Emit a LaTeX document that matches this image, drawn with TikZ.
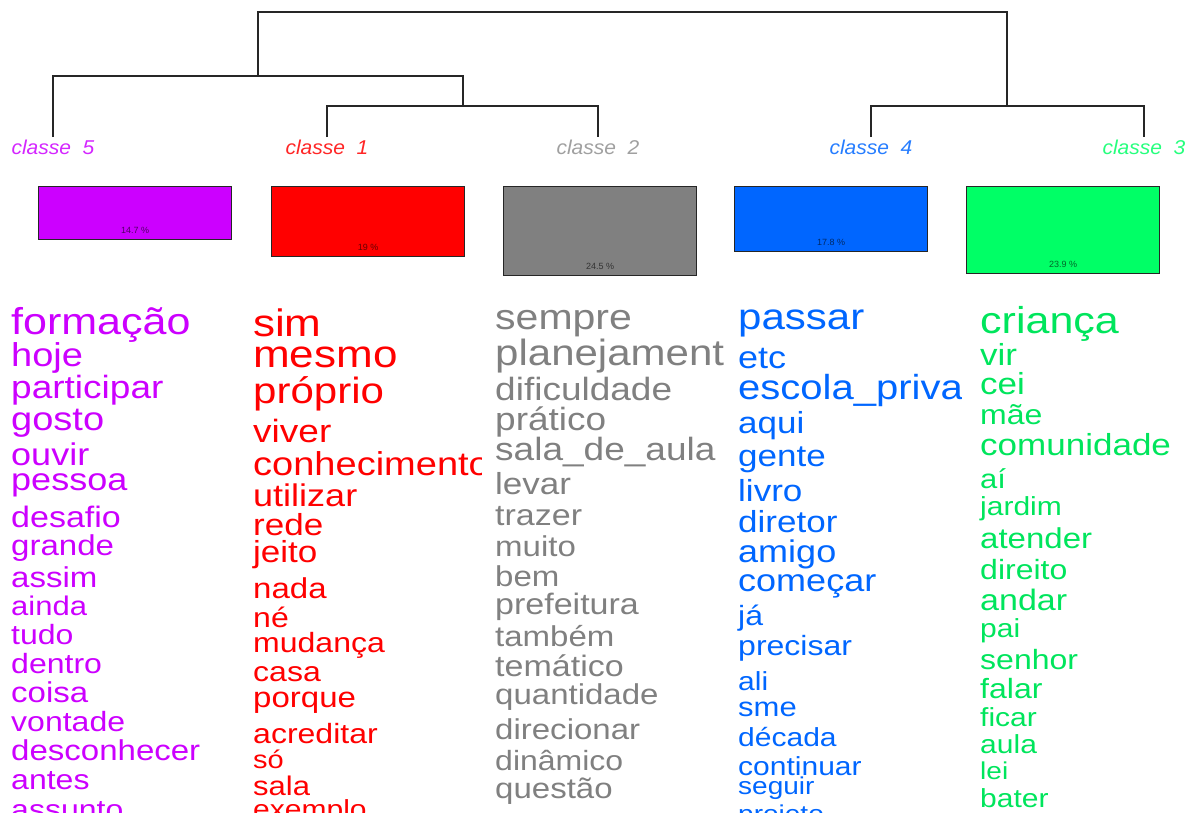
\documentclass[tikz,border=0pt]{standalone}
\usepackage{fontspec}
\setmainfont{Liberation Sans}
\newfontfamily\clsfont{Liberation Sans}[FakeStretch=1.05]
\newfontfamily\wordfont{Liberation Sans}[FakeStretch=1.15]
\usetikzlibrary{positioning}
\definecolor{cfive}{RGB}{204,0,255}
\definecolor{cone}{RGB}{255,0,0}
\definecolor{ctwo}{RGB}{128,128,128}
\definecolor{cfour}{RGB}{0,102,255}
\definecolor{cthree}{RGB}{0,255,102}
\tikzset{
  tree/.style={line width=1.2pt, draw=black!85},
  cls/.style={anchor=north, inner sep=3pt, font=\clsfont\itshape\fontsize{20}{20}\selectfont},
  barbox/.style={draw=black!85, line width=1.2pt, anchor=north west, inner sep=0pt, minimum width=193pt},
  pct/.style={inner sep=0pt, font=\fontsize{9}{9}\selectfont},
  word/.style={anchor=base west, inner sep=0pt},
}

\begin{document}
\begin{tikzpicture}[x=1pt,y=-1pt]
\useasboundingbox (0,0) rectangle (1191,812);
\clip (0,0) rectangle (1191,812);

% class labels
\node[cls, text=cfive!85] (l5) at (53,137) {classe\ \ 5};
\node[cls, text=cone!85] (l1) at (327,137) {classe\ \ 1};
\node[cls, text=ctwo!75] (l2) at (598,137) {classe\ \ 2};
\node[cls, text=cfour!85] (l4) at (871,137) {classe\ \ 4};
\node[cls, text=cthree!85] (l3) at (1144,137) {classe\ \ 3};

% dendrogram
\coordinate (m12) at (463,106);
\coordinate (m34) at (1007,106);
\coordinate (m512) at (258,76);
\coordinate (root) at (632,12);
\draw[tree] (l1.north) |- (m12) -| (l2.north);
\draw[tree] (l4.north) |- (m34) -| (l3.north);
\draw[tree] (l5.north) |- (m512) -| (m12);
\draw[tree] (m512) |- (root) -| (m34);

% bars
\node[barbox, fill=cfive, minimum height=53pt] (b5) at (38,186) {};
\node[barbox, fill=cone, minimum height=70pt] (b1) at (271,186) {};
\node[barbox, fill=ctwo, minimum height=89pt] (b2) at (503,186) {};
\node[barbox, fill=cfour, minimum height=65pt] (b4) at (734,186) {};
\node[barbox, fill=cthree, minimum height=87pt] (b3) at (966,186) {};
\node[pct, text=cfive!40!black] (p5) at ([yshift=10pt]b5.south) {14.7 \%};
\node[pct, text=cone!40!black] (p1) at ([yshift=10pt]b1.south) {19 \%};
\node[pct, text=ctwo!40!black] (p2) at ([yshift=10pt]b2.south) {24.5 \%};
\node[pct, text=cfour!40!black] (p4) at ([yshift=10pt]b4.south) {17.8 \%};
\node[pct, text=cthree!40!black] (p3) at ([yshift=10pt]b3.south) {23.9 \%};

% word columns
\begin{scope}
\clip (0,290) rectangle (250,812);
\foreach \w/\s/\b [count=\i, evaluate=\s as \fs using 0.87*\s] in {formação/43/334, hoje/38/366, participar/37/398,
  gosto/38/430, ouvir/36/465, pessoa/36/490, desafio/34/527, grande/33/555,
  assim/33/587, ainda/31/615, tudo/32/644, dentro/32/673, coisa/33/702,
  vontade/32/731, desconhecer/33/760, antes/32/789, assunto/32/819}
  \node[word, text=cfive, font=\wordfont\fontsize{\fs}{\fs}\selectfont] (w5-\i) at (11,\b) {\w};
\end{scope}

\begin{scope}
\clip (250,290) rectangle (481,812);
\foreach \w/\s/\b [count=\i, evaluate=\s as \fs using 0.87*\s] in {sim/44/336, mesmo/44/367, próprio/42/403,
  viver/37/442, conhecimento/38/475, utilizar/36/506, rede/35/535, jeito/35/562,
  nada/33/598, né/32/627, mudança/32/652, casa/32/681, porque/33/707,
  acreditar/32/743, só/29/768, sala/31/795, exemplo/30/818}
  \node[word, text=cone, font=\wordfont\fontsize{\fs}{\fs}\selectfont] (w1-\i) at (253,\b) {\w};
\end{scope}

\begin{scope}
\clip (490,290) rectangle (723,812);
\foreach \w/\s/\b [count=\i, evaluate=\s as \fs using 0.87*\s] in {sempre/41/329, planejamento/42/365,
  dificuldade/37/400, prático/37/430, sala\_de\_aula/37/460, levar/35/494,
  trazer/34/525, muito/33/556, bem/33/586, prefeitura/34/614, também/33/646,
  temático/34/676, quantidade/33/704, direcionar/33/739, dinâmico/32/770,
  questão/33/798}
  \node[word, text=ctwo, font=\wordfont\fontsize{\fs}{\fs}\selectfont] (w2-\i) at (495,\b) {\w};
\end{scope}

\begin{scope}
\clip (735,290) rectangle (961,812);
\foreach \w/\s/\b [count=\i, evaluate=\s as \fs using 0.87*\s] in {passar/42/329, etc/36/368,
  escola\_privada/40/399, aqui/35/433, gente/35/466, livro/35/501,
  diretor/35/532, amigo/36/562, começar/36/591, já/32/625, precisar/32/655,
  ali/30/690, sme/31/716, década/30/746, continuar/30/775, seguir/28/794,
  projeto/28/822}
  \node[word, text=cfour, font=\wordfont\fontsize{\fs}{\fs}\selectfont] (w4-\i) at (738,\b) {\w};
\end{scope}

\begin{scope}
\clip (975,290) rectangle (1191,812);
\foreach \w/\s/\b [count=\i, evaluate=\s as \fs using 0.87*\s] in {criança/43/333, vir/35/365, cei/35/394,
  mãe/32/424, comunidade/35/455, aí/31/488, jardim/30/515, atender/33/548,
  direito/32/579, andar/34/610, pai/30/637, senhor/32/669, falar/32/698,
  ficar/30/726, aula/30/753, lei/28/779, bater/30/807}
  \node[word, text=cthree!90!black, font=\wordfont\fontsize{\fs}{\fs}\selectfont] (w3-\i) at (980,\b) {\w};
\end{scope}
\end{tikzpicture}
\end{document}
